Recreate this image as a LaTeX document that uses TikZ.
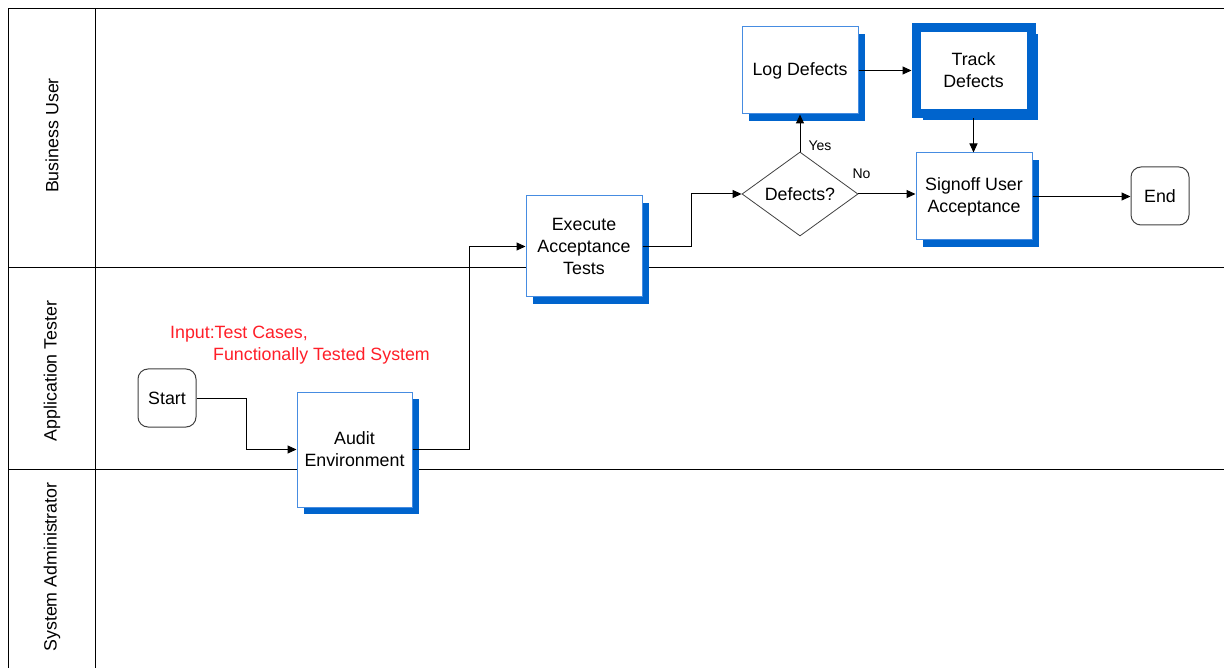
\documentclass[tikz,border=0pt]{standalone}
\usepackage{fontspec}
\setmainfont{Liberation Sans}
\usepackage{tikz}
\usetikzlibrary{positioning,shapes.geometric,shadows,arrows.meta}
\definecolor{boxline}{RGB}{70,140,225}
\definecolor{boxshadow}{RGB}{0,100,205}
\definecolor{inputred}{RGB}{255,30,40}
\newcommand{\boxfont}{\fontsize{17.8}{22}\selectfont}
\newcommand{\smallfont}{\fontsize{14}{16}\selectfont}
\tikzset{
	procnode/.style={rectangle, draw=boxline, fill=white, line width=1pt, align=center, font=\boxfont, inner sep=2pt,
		drop shadow={shadow xshift=7pt, shadow yshift=-7pt, fill=boxshadow, opacity=1}},
	thicknode/.style={procnode, draw=boxshadow, line width=9pt},
	termnode/.style={rectangle, rounded corners=10pt, draw=black!75, fill=white, line width=1pt, minimum size=58pt, font=\boxfont},
	decnode/.style={diamond, aspect=1.4, draw=black!75, line width=0.8pt, inner sep=0pt, minimum width=116pt, minimum height=84pt, font=\boxfont},
	lanelabel/.style={rotate=90, font=\boxfont},
	myarrow/.style={-{Triangle[length=9pt,width=8pt]}, line width=1pt}
}

\begin{document}
\begin{tikzpicture}[x=1pt, y=-1pt]
	\useasboundingbox (0,0) rectangle (1224,668);
	% lanes
	\draw[line width=1pt] (1224,9) -- (8,9) -- (8,668);
	\draw[line width=1pt] (95,9) -- (95,668);
	\draw[line width=1pt] (8,268) -- (1224,268);
	\draw[line width=1pt] (8,469) -- (1224,469);
	\node[lanelabel] at (52,135.5) (L1) {Business User};
	\node[lanelabel] at (52,371) (L2) {Application Tester};
	\node[lanelabel] at (52,567) (L3) {System Administrator};
	
	\node[termnode] at (167,398) (Start) {Start};
	\node[procnode, minimum width=115pt, minimum height=115pt] at (354.5,449.5) (Audit) {Audit\\Environment};
	\node[procnode, minimum width=116pt, minimum height=101pt] at (584,246.5) (Exec) {Execute\\Acceptance\\Tests};
	\node[decnode] at (800,194) (Dec) {Defects?};
	\node[procnode, minimum width=116pt, minimum height=87pt] at (800,70.5) (LogD) {Log Defects};
	\node[thicknode, minimum width=115pt, minimum height=86pt] at (973.5,70.5) (TrackD) {Track\\Defects};
	\node[procnode, minimum width=116pt, minimum height=87pt] at (974,196.5) (Sign) {Signoff User\\Acceptance};
	\node[termnode] at (1160,196) (End) {End};
	
	\node[anchor=base west, inner sep=0pt, align=left, text=inputred, font=\boxfont] at (170,361) (Input) {Input:Test Cases,\\\hspace*{43pt}Functionally Tested System};
	
	\draw[myarrow] (Start.east) -- ++(50,0) |- (Audit.west);
	\draw[myarrow] (Audit.east) -- ++(57,0) |- (Exec.west);
	\draw[myarrow] (Exec.east) -- ++(49,0) |- (Dec.west);
	\draw[myarrow] (Dec.north) -- (LogD.south);
	\draw[myarrow] (Dec.east) -- (Dec.east -| Sign.west);
	\draw[myarrow] (LogD.east) -- (LogD.east -| TrackD.west);
	\draw[myarrow] (TrackD.south) -- (TrackD.south |- Sign.north);
	\draw[myarrow] (Sign.east) -- (Sign.east -| End.west);
	
	\node[font=\smallfont] at (820,146) (Y) {Yes};
	\node[font=\smallfont] at (861.5,174) (N) {No};
\end{tikzpicture}
\end{document}
